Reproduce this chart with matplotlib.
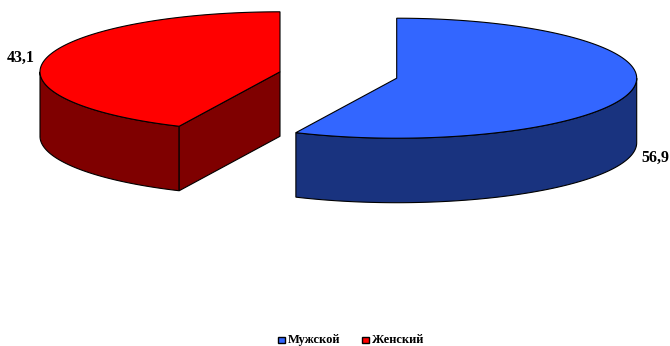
import numpy as np
import matplotlib
matplotlib.use('Agg')
import matplotlib.pyplot as plt
from matplotlib.patches import Polygon, Rectangle

labels = ['Мужской', 'Женский']
values = [56.9, 43.1]
value_text = ['56,9', '43,1']
top_colors = ['#3366FF', '#FF0000']
side_colors = ['#19337F', '#7F0000']

plt.rcParams['font.family'] = ['Liberation Serif', 'DejaVu Serif']

# axes in pixels of the picture, y going down
fig = plt.figure(figsize=(6.70, 3.46), dpi=100)
ax = fig.add_axes([0, 0, 1, 1])
ax.set_xlim(0, 670)
ax.set_ylim(346, 0)
ax.axis('off')

a = 240
b = 60
depth = 64.5
centers = [(396.7, 78.2), (280, 71.8)]


def rim(cx, cy, t0, t1, dy=0):
    # angle clockwise from the top of the ellipse
    t = np.radians(np.linspace(t0, t1, 200))
    return np.column_stack([cx + a * np.sin(t), cy - b * np.cos(t) + dy])


def draw(kw_top, kw_side, cx, cy, t0, t1, face_first):
    front0 = max(t0, 90)
    front1 = min(t1, 270)
    if front1 > front0:
        up = rim(cx, cy, front0, front1)
        down = rim(cx, cy, front1, front0, depth)
        ax.add_patch(Polygon(np.vstack([up, down]), closed=True, **kw_side))
    if face_first is not None:
        p = rim(cx, cy, face_first, face_first)[0]
        ax.add_patch(Polygon([(cx, cy), p, (p[0], p[1] + depth), (cx, cy + depth)],
                             closed=True, **kw_side))
    ax.add_patch(Polygon(np.vstack([[(cx, cy)], rim(cx, cy, t0, t1)]), closed=True, **kw_top))


angles = np.cumsum([0] + values) * 360 / sum(values)

# male slice: no cut face visible
draw(dict(fc=top_colors[0], ec='black', lw=0.8), dict(fc=side_colors[0], ec='black', lw=0.8),
     centers[0][0], centers[0][1], angles[0], angles[1], None)
# female slice: cut face towards the viewer
draw(dict(fc=top_colors[1], ec='black', lw=0.8), dict(fc=side_colors[1], ec='black', lw=0.8),
     centers[1][0], centers[1][1], angles[1], angles[2], angles[1])

ax.text(655, 158, value_text[0], fontsize=11.5, fontweight='bold', ha='center', va='center')
ax.text(20.5, 57.5, value_text[1], fontsize=11.5, fontweight='bold', ha='center', va='center')

# legend
ax.add_patch(Rectangle((278, 336.5), 7, 6.5, fc=top_colors[0], ec='black', lw=1))
ax.text(288, 340, labels[0], fontsize=9, fontweight='bold', va='center')
ax.add_patch(Rectangle((361.5, 336.5), 7, 6.5, fc=top_colors[1], ec='black', lw=1))
ax.text(372, 340, labels[1], fontsize=9, fontweight='bold', va='center')

plt.savefig('out.png', dpi=100)
plt.close()
